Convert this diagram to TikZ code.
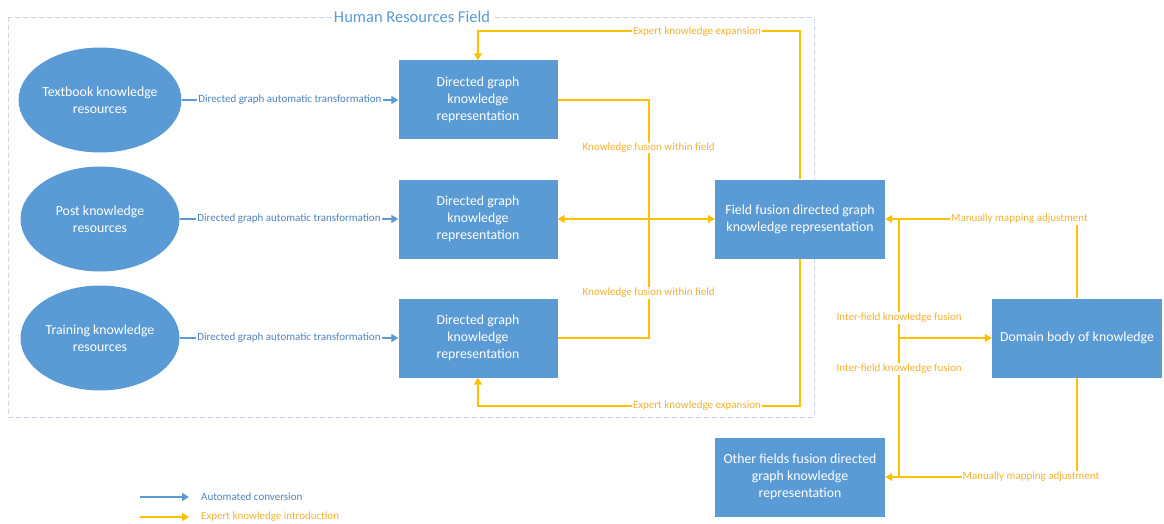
\documentclass[tikz,border=0pt]{standalone}
\usepackage{fontspec}
\setmainfont{Carlito}
\usetikzlibrary{arrows.meta,shapes.geometric}
\definecolor{boxblue}{HTML}{5B9BD5}
\definecolor{autoblue}{HTML}{5B9BD5}
\definecolor{labelblue}{HTML}{4F83C0}
\definecolor{expyellow}{HTML}{FFC000}
\definecolor{labelyellow}{HTML}{F2B233}
\definecolor{fieldgrey}{HTML}{C9D8EA}

\begin{document}
\begin{tikzpicture}[x=1pt, y=-1pt, >={Triangle[length=7pt,width=8pt]},
    resource/.style={ellipse, fill=boxblue, text=white, inner sep=0pt, minimum width=159pt, minimum height=105pt, align=center, font=\fontsize{13.8}{16.8}\selectfont},
    graphbox/.style={rectangle, fill=boxblue, text=white, inner sep=2pt, minimum height=79pt, align=center, font=\fontsize{13.8}{16.8}\selectfont},
    autoline/.style={draw=autoblue, line width=1.3pt, ->},
    expline/.style={draw=expyellow, line width=1.6pt},
    bluelabel/.style={fill=white, text=labelblue, inner sep=1pt, font=\fontsize{11}{13}\selectfont},
    yellowlabel/.style={fill=white, text=labelyellow, inner sep=1pt, font=\fontsize{11}{13}\selectfont}]
  \useasboundingbox (0,0) rectangle (1164,524);

  \draw [fieldgrey, line width=0.8pt, dash pattern=on 5pt off 3pt] (8,17) rectangle (814,417);
  \node [fill=white, text=boxblue, inner sep=2pt, font=\fontsize{16.5}{19}\selectfont] (field) at (412,17) {Human Resources Field};

  \node [resource] (textbook) at (100,100) {Textbook knowledge\\resources};
  \node [resource] (post) at (100,219) {Post knowledge\\resources};
  \node [resource] (training) at (100,338) {Training knowledge\\resources};

  \node [graphbox, minimum width=159pt] (dg1) at (478,100) {Directed graph\\knowledge\\representation};
  \node [graphbox, minimum width=159pt] (dg2) at (478,219) {Directed graph\\knowledge\\representation};
  \node [graphbox, minimum width=159pt] (dg3) at (478,338) {Directed graph\\knowledge\\representation};

  \node [graphbox, minimum width=170pt] (fusion) at (800,219) {Field fusion directed graph\\knowledge representation};
  \node [graphbox, minimum width=170pt] (domain) at (1077,338) {Domain body of knowledge};
  \node [graphbox, minimum width=170pt] (other) at (800,477) {Other fields fusion directed\\graph knowledge\\representation};

  \draw [autoline] (textbook) -- node [bluelabel] {Directed graph automatic transformation} (dg1);
  \draw [autoline] (post) -- node [bluelabel] {Directed graph automatic transformation} (dg2);
  \draw [autoline] (training) -- node [bluelabel] {Directed graph automatic transformation} (dg3);

  \draw [expline, ->] (fusion.north) -- ++(0,-148) -| node [yellowlabel, pos=0.16] {Expert knowledge expansion} (dg1.north);
  \draw [expline, ->] (fusion.south) -- ++(0,147) -| node [yellowlabel, pos=0.16] {Expert knowledge expansion} (dg3.south);

  \draw [expline] (dg1.east) -- ++(91,0) coordinate (bus)
    -- node [yellowlabel, pos=0.2] {Knowledge fusion within field}
       node [yellowlabel, pos=0.81] {Knowledge fusion within field} (bus |- dg3.east) -- (dg3.east);
  \draw [expline, <->] (dg2.east) -- (fusion.west);

  \draw [expline, ->] (domain.north) |- node [yellowlabel, pos=0.65] {Manually mapping adjustment} (fusion.east);
  \draw [expline, ->] (domain.south) |- node [yellowlabel, pos=0.62] {Manually mapping adjustment} (other.east);

  \draw [expline] (fusion.east) ++(14,0) coordinate (inter)
    -- node [yellowlabel, pos=0.384] {Inter-field knowledge fusion}
       node [yellowlabel, pos=0.581] {Inter-field knowledge fusion} (inter |- other.east);
  \draw [expline, ->] (inter |- domain.west) -- (domain.west);

  \node [anchor=west, text=labelblue, inner sep=0pt, font=\fontsize{11}{13}\selectfont] (autokey) at (201,497) {Automated conversion};
  \node [anchor=west, text=labelyellow, inner sep=0pt, font=\fontsize{11}{13}\selectfont] (expkey) at (201,517) {Expert knowledge introduction};
  \coordinate (autostart) at (140,497);
  \coordinate (expstart) at (140,517);
  \draw [autoline] (autostart) -- ([xshift=-12pt]autokey.west);
  \draw [expline, ->] (expstart) -- ([xshift=-12pt]expkey.west);
\end{tikzpicture}
\end{document}
